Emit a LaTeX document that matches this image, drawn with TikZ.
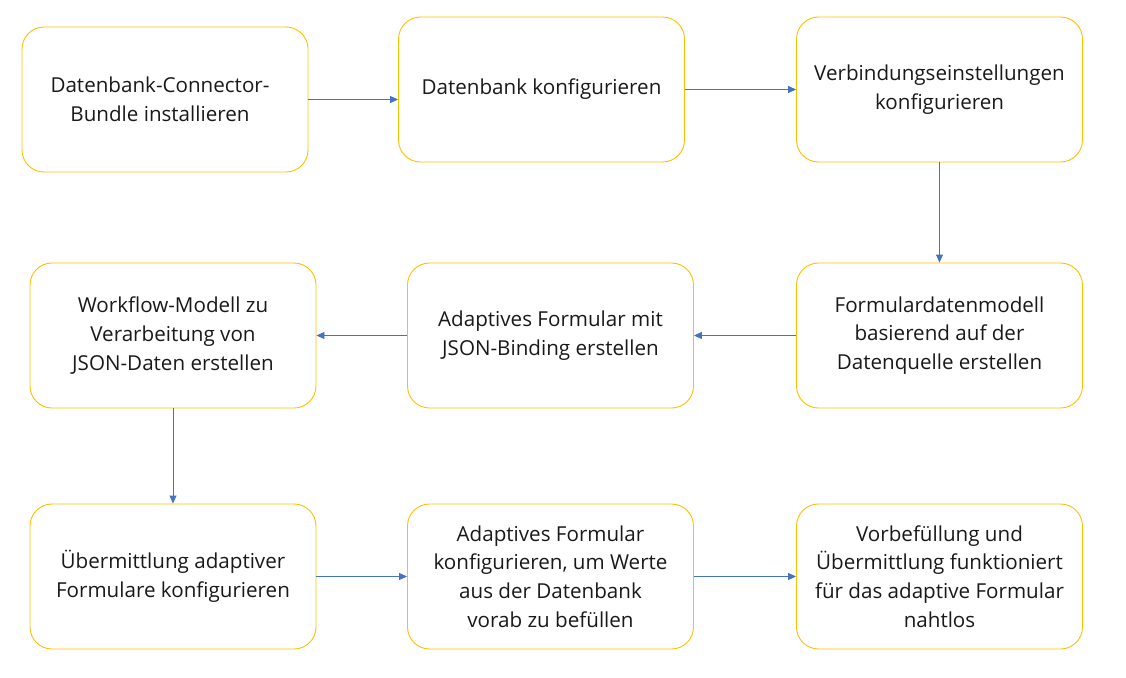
\documentclass[tikz,border=0pt]{standalone}
\usepackage{fontspec}
\setmainfont{Open Sans}
\usetikzlibrary{arrows.meta}
\definecolor{boxline}{HTML}{FFC000}
\definecolor{arr}{HTML}{4472C4}
\begin{document}
\begin{tikzpicture}[x=1pt,y=-1pt,
  stepbox/.style={draw=boxline, line width=0.9pt, rounded corners=22pt, minimum width=286pt, minimum height=145pt, align=center, inner sep=0pt, font=\fontsize{20.6}{28.8}\selectfont, text=black!90},
  conn/.style={draw=arr, line width=0.9pt, -{Triangle[length=8pt,width=7pt]}}]
\useasboundingbox (0,0) rectangle (1126,677);
\node[stepbox] (b1) at (165,99.5) {Datenbank-Connector-\hspace*{10pt}\\Bundle installieren\hspace*{10pt}};
\node[stepbox] (b2) at (541.5,89.5) {Datenbank konfigurieren};
\node[stepbox] (b3) at (939.5,89.5) {Verbindungseinstellungen\\konfigurieren};
\node[stepbox] (b4) at (173,335.5) {Workflow-Modell zu\\Verarbeitung von\\JSON-Daten erstellen};
\node[stepbox] (b5) at (550.5,335.5) {Adaptives Formular mit\\JSON-Binding erstellen};
\node[stepbox] (b6) at (939.5,335.5) {Formulardatenmodell\\basierend auf der\\Datenquelle erstellen};
\node[stepbox] (b7) at (173,576.5) {Übermittlung adaptiver\\Formulare konfigurieren};
\node[stepbox] (b8) at (550.5,576.5) {Adaptives Formular\\konfigurieren, um Werte\\aus der Datenbank\\vorab zu befüllen};
\node[stepbox] (b9) at (939.5,576.5) {Vorbefüllung und\\Übermittlung funktioniert\\für das adaptive Formular\\nahtlos};
\draw[conn] (b1.east) -- (b1.east -| b2.west);
\draw[conn] (b2.east) -- (b3.west);
\draw[conn] (b3.south) -- (b6.north);
\draw[conn] (b6.west) -- (b5.east);
\draw[conn] (b5.west) -- (b4.east);
\draw[conn] (b4.south) -- (b7.north);
\draw[conn] (b7.east) -- (b8.west);
\draw[conn] (b8.east) -- (b9.west);
\end{tikzpicture}
\end{document}
